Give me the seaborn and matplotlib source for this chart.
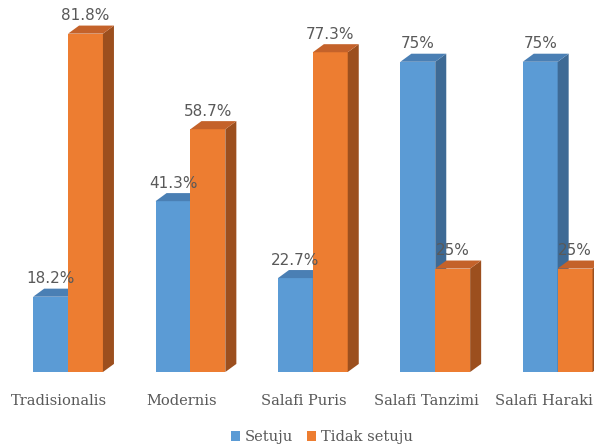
import numpy as np
import pandas as pd
import matplotlib.pyplot as plt
import seaborn as sns
from matplotlib.patches import Polygon, Patch

# data
kategori = ["Tradisionalis", "Modernis", "Salafi Puris", "Salafi Tanzimi", "Salafi Haraki"]
seri = ["Setuju", "Tidak setuju"]
setuju = [18.2, 41.3, 22.7, 75, 75]
tidak_setuju = [81.8, 58.7, 77.3, 25, 25]
label_setuju = ["18.2%", "41.3%", "22.7%", "75%", "75%"]
label_tidak = ["81.8%", "58.7%", "77.3%", "25%", "25%"]

df = pd.DataFrame({
    "kategori": kategori * 2,
    "seri": [seri[0]] * len(kategori) + [seri[1]] * len(kategori),
    "nilai": setuju + tidak_setuju,
})

warna = {"Setuju": "#5B9BD5", "Tidak setuju": "#ED7D31"}
warna_sisi = {"Setuju": "#3E6A95", "Tidak setuju": "#9C4F1E"}
warna_atas = {"Setuju": "#4A7FB4", "Tidak setuju": "#C4622A"}

sns.set_style("white")
fig = plt.figure(figsize=(5.94, 4.44), dpi=100)
ax = fig.add_axes([0, 72 / 444, 1, 364 / 444])
sns.barplot(data=df, x="kategori", y="nilai", hue="seri", palette=warna,
            width=0.57, saturation=1, linewidth=0, legend=False, ax=ax)

# fake 3d depth
dx, dy = 0.09, 1.95
for i, (cont, s) in enumerate(zip(ax.containers, seri)):
    labels = label_setuju if i == 0 else label_tidak
    for bar, lab in zip(cont, labels):
        x0, w, h = bar.get_x(), bar.get_width(), bar.get_height()
        z = 2 + i
        bar.set_zorder(z)
        side = Polygon([(x0 + w, 0), (x0 + w + dx, dy), (x0 + w + dx, h + dy), (x0 + w, h)],
                       closed=True, facecolor=warna_sisi[s], edgecolor="none", zorder=z + 0.1)
        top = Polygon([(x0, h), (x0 + dx, h + dy), (x0 + w + dx, h + dy), (x0 + w, h)],
                      closed=True, facecolor=warna_atas[s], edgecolor="none", zorder=z + 0.1)
        ax.add_patch(side)
        ax.add_patch(top)
        ax.text(x0 + w / 2, h + dy + 0.6, lab, ha="center", va="bottom",
                fontsize=11, color="#595959", zorder=5)

ax.set_xlim(-0.556, 4.297)
ax.set_ylim(0, 88)
ax.set_xlabel("")
ax.set_ylabel("")
ax.set_yticks([])
ax.set_xticklabels([])
ax.tick_params(axis="x", length=0)
# category labels, slightly left of the bar groups like the original
for i, k in enumerate(kategori):
    if i == len(kategori) - 1:
        # last one pushed in so it fits at the right edge
        ax.annotate(k, xy=(1, 0), xycoords="axes fraction",
                    xytext=(-1, -22), textcoords="offset pixels", ha="right", va="top",
                    fontfamily="DejaVu Serif", fontsize=10.5, color="#595959")
    else:
        ax.annotate(k, xy=(i, 0), xycoords=("data", "axes fraction"),
                    xytext=(-9, -22), textcoords="offset pixels", ha="center", va="top",
                    fontfamily="DejaVu Serif", fontsize=10.5, color="#595959")
sns.despine(ax=ax, left=True, bottom=True)

handles = [Patch(facecolor=warna[s], edgecolor="none") for s in seri]
fig.legend(handles, seri, loc="lower center", bbox_to_anchor=(0.542, -0.03), ncol=2,
           frameon=False, handlelength=0.6, handleheight=0.6, handletextpad=0.3,
           columnspacing=1.0, prop={"family": "DejaVu Serif", "size": 10.5},
           labelcolor="#595959")

fig.savefig("out.png", dpi=100)
